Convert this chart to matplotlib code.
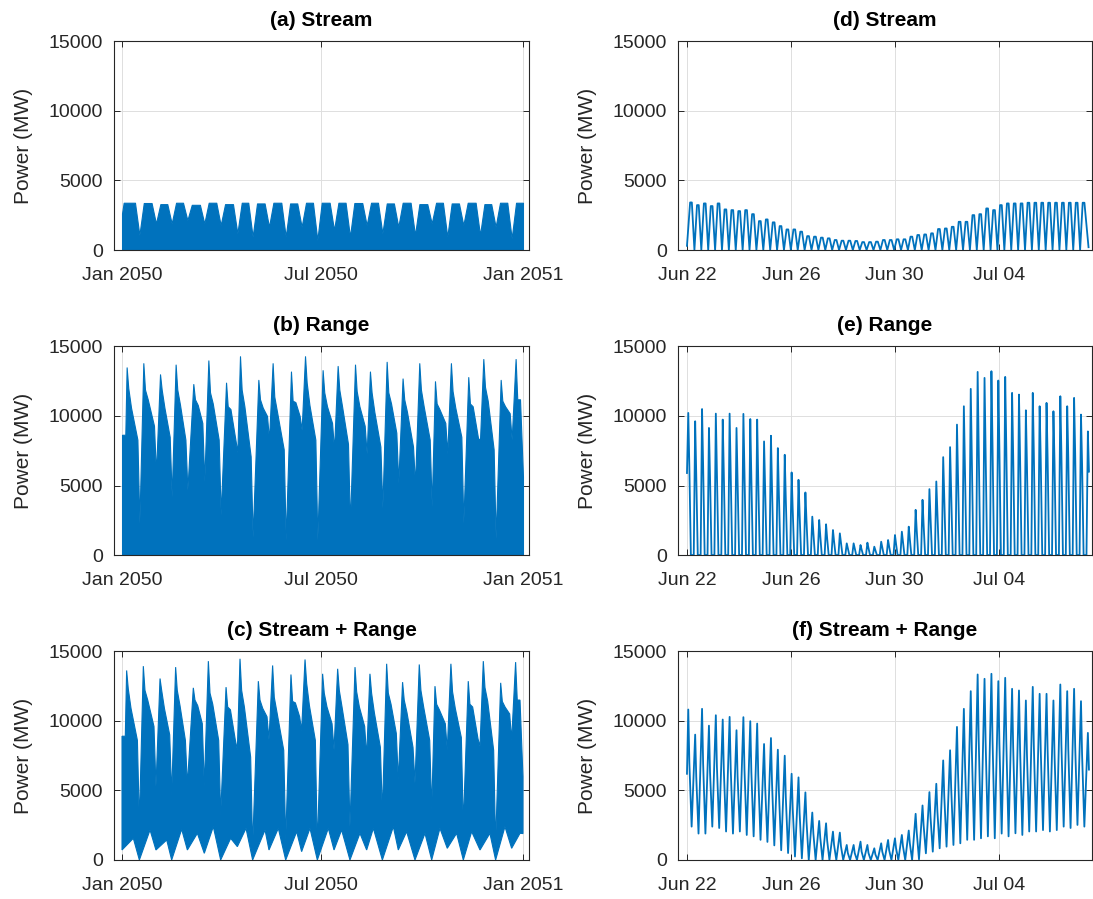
import datetime as dt
import numpy as np
import matplotlib
matplotlib.use('Agg')
import matplotlib.pyplot as plt
import matplotlib.dates as mdates


# ---- Whole year 2050 (left column), envelopes read per spring-neap cycle ----
# days since 2050-01-01
spring_day = [4.2, 19.4, 34.6, 48.8, 64.9, 78.6, 94.7, 107.4, 124.1, 137.1,
              153.8, 166.6, 182.6, 196.3, 212.1, 225.7, 240.9, 255.4, 270.6,
              284.9, 299.4, 315.2, 328.9, 344.7, 358.3]
neap_day = [15.8, 30.9, 45.2, 59.5, 74.9, 89.8, 105.0, 118.9, 133.8, 149.0,
            163.5, 177.8, 193.0, 207.5, 222.7, 237.0, 251.5, 266.7, 281.9,
            296.1, 310.7, 325.9, 340.1, 354.7]
tooth_day = [10.3, 25.5, 40.7, 54.3, 68.6, 83.1, 98.9, 112.9, 130.2, 142.3,
             159.0, 171.1, 187.8, 199.9, 216.6, 228.8, 247.0, 259.1, 275.8,
             289.4, 304.6, 318.3, 334.9, 348.6, 362.3]

# (a) stream: top level between neaps and neap dips (MW)
a_top = [3400, 3380, 3300, 3400, 3250, 3400, 3300, 3400, 3350, 3400, 3350,
         3400, 3400, 3400, 3380, 3400, 3350, 3400, 3300, 3400, 3350, 3400,
         3300, 3400, 3400]
a_dip = [1080, 1910, 1910, 2150, 1910, 1790, 1200, 960, 1670, 960, 1670, 720,
         1440, 960, 1790, 1200, 1670, 1080, 1910, 960, 1790, 1080, 1670, 840]
a_start = 2630

# (b) range: spring peak, shoulders, pre-neap level, neap dip (MW)
b_peak = [13500, 13800, 13000, 13700, 12300, 14000, 12400, 14300, 12600,
          13800, 13200, 14300, 13300, 13600, 13700, 13200, 13900, 12700,
          13800, 12500, 13800, 12800, 14100, 12600, 14100]
b_s1 = [12000, 11900, 11900, 11900, 11200, 11700, 10700, 11900, 11200, 11400,
        11100, 12400, 11700, 11900, 11800, 11700, 11700, 11200, 11900, 10900,
        11800, 10900, 12100, 11100, 11200]
b_s2 = [10600, 11200, 10600, 10800, 10800, 10900, 10500, 10700, 10600, 10300,
        11000, 10800, 10700, 10700, 10700, 10300, 10900, 10300, 10700, 10500,
        10600, 10700, 11100, 10700, 11200]
b_s3 = [8300, 9300, 8500, 8300, 9500, 8300, 8300, 7100, 10000, 7600, 10000,
        8300, 9500, 8000, 9300, 7800, 8800, 7800, 8300, 9500, 8500, 8400, 7600,
        10200]
b_dip = [2300, 5900, 4200, 4700, 5300, 2900, 7400, 1300, 8300, 1100, 9000,
         1100, 7600, 2200, 7300, 3400, 5200, 5100, 3500, 7300, 2300, 8300,
         1200, 8300]
b_start, b_end = 8650, 5650

# (c) stream + range: upper envelope as for (b), lower envelope teeth
c_peak = [13630, 13940, 13050, 13870, 12380, 14300, 12430, 14470, 12860,
          13990, 13340, 14420, 13390, 13750, 13870, 13390, 14110, 12790,
          14060, 12500, 14110, 12860, 14300, 12740, 14230]
c_s1 = [12300, 12200, 12200, 12200, 11500, 12000, 11000, 12200, 11500, 11700,
        11400, 12700, 12000, 12200, 12100, 12000, 12000, 11500, 12200, 11200,
        12100, 11200, 12400, 11400, 11500]
c_s2 = [10900, 11500, 10900, 11100, 11100, 11200, 10800, 11000, 10900, 10600,
        11300, 11100, 11000, 11000, 11000, 10600, 11200, 10600, 11000, 10800,
        10900, 11000, 11400, 11000, 11500]
c_s3 = [8600, 9600, 9000, 8600, 9800, 8600, 8600, 7400, 10300, 7900, 10300,
        8600, 9800, 8300, 9600, 8100, 9100, 8100, 8600, 9800, 8800, 8700, 7900,
        10500]
c_dip = [2640, 5290, 4690, 5410, 5290, 3250, 7930, 960, 8650, 1440, 9300, 960,
         7930, 2400, 7450, 3370, 5770, 5530, 3610, 7930, 2520, 8170, 1200,
         8650]
c_start, c_end = 8900, 6000
c_tooth = [1560, 2160, 1440, 2210, 1920, 2400, 1560, 2280, 2160, 2280, 2040,
           2280, 2280, 2160, 1920, 2280, 2400, 2040, 1920, 2280, 1920, 2040,
           1920, 2400, 1920]
c_low_neap = [0, 720, 0, 720, 480, 0, 960, 0, 720, 0, 600, 0, 720, 0, 720, 0,
              720, 0, 0, 840, 0, 720, 0, 840]
c_low_start, c_low_end = 720, 1900

# ---- 22 Jun - 7 Jul 2050 (right column), one value per half tidal cycle ----
d_peak = [3420, 3230, 3350, 3160, 3350, 2920, 2870, 2800, 2870, 2580, 2080,
          2200, 1990, 1720, 1480, 1480, 1320, 1000, 960, 890, 840, 720, 670,
          670, 650, 570, 570, 600, 720, 720, 770, 770, 960, 1080, 1120, 1200,
          1510, 1550, 1670, 2030, 2030, 2510, 2580, 2990, 2870, 3230, 3350,
          3350, 3350, 3400, 3400, 3400, 3400, 3400, 3400, 3400, 3400, 3400]
d_start, d_end = 300, 200

e_peak = [10220, 9620, 10500, 9140, 10170, 9740, 10170, 9140, 10150, 9780,
          9740, 8170, 8580, 7690, 7210, 5940, 5410, 4500, 2760, 2520, 2210,
          1800, 1560, 840, 840, 720, 890, 600, 960, 1080, 1440, 1680, 2040,
          3250, 3970, 4740, 5290, 7040, 7760, 9380, 10700, 11950, 13170, 12740,
          13220, 12550, 12810, 11660, 11540, 10410, 11660, 10700, 10940, 10340,
          11420, 10700, 11300, 10100, 8890]
e_shoulder = [6300, 5800, 6400, 5600, 6100, 5900, 6000, 5300, 5800, 5500,
              5400, 4700, 4800, 4300, 4000, 3300, 3000, 2500, 1600, 1400, 1200,
              1000, 900, 500, 500, 400, 500, 350, 550, 600, 800, 950, 1150,
              1800, 2200, 2700, 3000, 4000, 4500, 5400, 6200, 6900, 7800, 7600,
              8000, 7600, 7800, 7200, 7100, 6500, 7300, 6900, 7000, 6700, 7300,
              7000, 7300, 6600, 6000]
e_start = 5900

f_peak = [10820, 9015, 10870, 9660, 10410, 10100, 10290, 9330, 10270, 9980,
          9810, 8340, 8770, 7930, 7500, 6200, 5940, 4860, 3410, 2810, 2640,
          2040, 1970, 1080, 1080, 1320, 1080, 840, 1200, 1440, 1560, 1800,
          2120, 3320, 3920, 4880, 5480, 7160, 7890, 9570, 10870, 12140, 13340,
          13030, 13390, 12860, 13100, 12310, 12190, 11470, 12450, 11950, 11950,
          11470, 12620, 12140, 12310, 11420, 9140]
f_shoulder = [7000, 6000, 6900, 6300, 6700, 6500, 6600, 6000, 6500, 6300,
              6100, 5300, 5500, 4900, 4500, 3700, 3400, 2800, 1900, 1600, 1400,
              1100, 1000, 500, 500, 600, 500, 400, 600, 700, 850, 1000, 1200,
              2000, 2500, 3100, 3500, 4600, 5200, 6200, 7100, 7900, 8600, 8500,
              8700, 8400, 8600, 8100, 8000, 7600, 8200, 7900, 7900, 7600, 8300,
              8000, 8200, 7600, 6500]
f_trough = [2400, 1900, 1900, 2400, 2300, 2050, 1900, 2050, 1800, 1700, 1450,
            1300, 1050, 700, 500, 250, 120, 0, 0, 0, 0, 0, 0, 0, 0, 0, 0, 0, 0,
            0, 0, 0, 0, 50, 480, 600, 840, 960, 1080, 1200, 1450, 1450, 1560,
            1700, 1560, 1900, 1700, 1920, 1800, 2050, 2050, 2150, 2050, 2150,
            2400, 2300, 2520, 2400]
f_start = 6200


# ---- build the traces ----
def stream_year():
    d, v = [0.0, 1.5], [a_start, a_top[0]]
    for i, n in enumerate(neap_day):
        d += [n - 4.0, n, n + 4.0]
        v += [a_top[i], a_dip[i], a_top[i+1]]
    d += [365.0]
    v += [a_top[-1]]
    return np.array(d), np.array(v)


def range_year(start, peak, s1, s2, s3, dip, end):
    d, v = [0.0, 3.0], [start, start]
    for i, p in enumerate(spring_day):
        d += [p, p + 1.5, p + 4.0]
        v += [peak[i], s1[i], s2[i]]
        if i < len(neap_day):
            d += [neap_day[i] - 1.8, neap_day[i]]
            v += [s3[i], dip[i]]
    d += [365.0]
    v += [end]
    return np.array(d), np.array(v)


def lower_year():
    d, v = [0.0], [c_low_start]
    for i, n in enumerate(neap_day):
        d += [tooth_day[i], n]
        v += [c_tooth[i], c_low_neap[i]]
    d += [tooth_day[-1], 365.0]
    v += [c_tooth[-1], c_low_end]
    return np.array(d), np.array(v)


t_d = np.linspace(3.7, 366.4, len(d_peak))   # hours after 22 Jun 00:00
t_e = np.linspace(1.2, 370.4, len(e_peak))

# stream: flat top around each peak, zero at slack water
hd, vd = [0.0], [d_start]
for k in range(len(d_peak)):
    hd += [t_d[k] - 0.8, t_d[k] + 0.8]
    vd += [d_peak[k], d_peak[k]]
    if k < len(d_peak) - 1:
        hd.append(0.5*(t_d[k] + t_d[k+1]))
        vd.append(0)
hd.append(371.0)
vd.append(d_end)

# range: start-up spike, shoulder, then turbines off
he, ve = [0.0], [e_start]
for k in range(len(e_peak)):
    if k > 0:
        he.append(t_e[k] - 1.3)
        ve.append(0)
    he += [t_e[k], t_e[k] + 1.0]
    ve += [e_peak[k], e_shoulder[k]]
    if k < len(e_peak) - 1:
        he.append(t_e[k] + 2.4)
        ve.append(0)

hf, vf = [0.0], [f_start]
for k in range(len(f_peak)):
    hf += [t_e[k], t_e[k] + 1.0]
    vf += [f_peak[k], f_shoulder[k]]
    if k < len(f_trough):
        hf.append(t_e[k] + 3.1)
        vf.append(f_trough[k])


# ---- plot ----
blue = '#0072BD'
dark = '#262626'
fs = 14
lw = 1.3
plt.rcParams['font.family'] = ['Liberation Sans', 'DejaVu Sans']

y0 = mdates.date2num(dt.datetime(2050, 1, 1))
r0 = mdates.date2num(dt.datetime(2050, 6, 22))

fig = plt.figure(figsize=(10.93, 8.99), dpi=100)
bottoms = [0.7219, 0.3826, 0.0434]
height = 0.2320
axes = []
for row in range(3):
    axl = fig.add_axes([0.1043, bottoms[row], 0.3797, height])
    axr = fig.add_axes([0.6203, bottoms[row], 0.3785, height])
    axes.append((axl, axr))

# left column
da, va = stream_year()
axes[0][0].fill_between(y0 + da, 0, va, color=blue, lw=0.8)
db, vb = range_year(b_start, b_peak, b_s1, b_s2, b_s3, b_dip, b_end)
axes[1][0].fill_between(y0 + db, 0, vb, color=blue, lw=0.8)
dc, vc = range_year(c_start, c_peak, c_s1, c_s2, c_s3, c_dip, c_end)
dl, vl = lower_year()
axes[2][0].fill(np.r_[y0 + dc, (y0 + dl)[::-1]], np.r_[vc, vl[::-1]],
                color=blue, lw=0.8)

# right column
axes[0][1].plot(r0 + np.array(hd)/24, vd, c=blue, lw=lw)
axes[1][1].plot(r0 + np.array(he)/24, ve, c=blue, lw=lw)
axes[2][1].plot(r0 + np.array(hf)/24, vf, c=blue, lw=lw)

titles = [('(a) Stream', '(d) Stream'), ('(b) Range', '(e) Range'),
          ('(c) Stream + Range', '(f) Stream + Range')]
left_ticks = [dt.datetime(2050, 1, 1), dt.datetime(2050, 7, 1),
              dt.datetime(2051, 1, 1)]
right_ticks = [dt.datetime(2050, 6, 22), dt.datetime(2050, 6, 26),
               dt.datetime(2050, 6, 30), dt.datetime(2050, 7, 4)]
for row in range(3):
    for col in range(2):
        ax = axes[row][col]
        ax.set_ylim(0, 15000)
        ax.set_yticks([0, 5000, 10000, 15000])
        if col == 0:
            ax.set_xlim(y0 - 7.3, y0 + 370.5)
            ax.set_xticks(mdates.date2num(left_ticks))
            ax.set_xticklabels(['Jan 2050', 'Jul 2050', 'Jan 2051'])
        else:
            ax.set_xlim(r0 - 0.346, r0 + 15.58)
            ax.set_xticks(mdates.date2num(right_ticks))
            ax.set_xticklabels(['Jun 22', 'Jun 26', 'Jun 30', 'Jul 04'])
        ax.grid(True, color='#dedede', lw=0.7)
        ax.set_axisbelow(True)
        ax.set_title(titles[row][col], fontsize=fs+1, fontweight='bold',
                     color='black', pad=11)
        ax.set_ylabel('Power (MW)', fontsize=fs+1, color=dark, labelpad=11)
        ax.tick_params(direction='in', which='both', top=True, right=True,
                       length=4, width=0.7, colors=dark, labelsize=fs)
        ax.tick_params(axis='x', pad=12)
        ax.tick_params(axis='y', pad=8)
        for sp in ax.spines.values():
            sp.set_color(dark)
            sp.set_linewidth(0.8)

fig.savefig('out.png', dpi=100)
